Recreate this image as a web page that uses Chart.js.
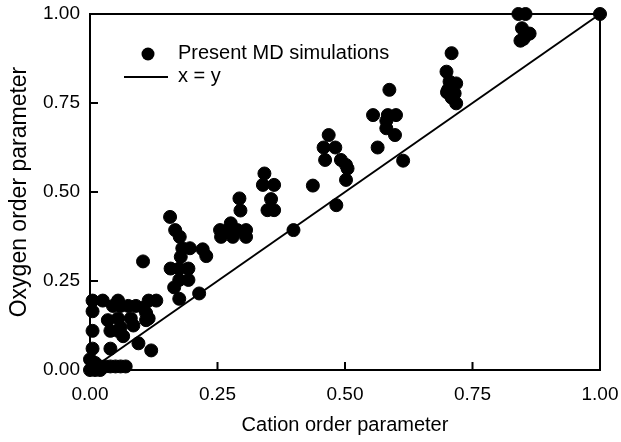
<!DOCTYPE html>
<html>
<head>
<meta charset="utf-8">
<script src="https://cdn.jsdelivr.net/npm/chart.js@4"></script>
<style>
  body { margin: 0; background: #fff; }
  #wrap { width: 621px; height: 442px; }
</style>
</head>
<body>
<div id="wrap"><canvas id="orderChart"></canvas></div>
<script>
// cation vs oxygen order parameter, MD runs

const cationOrder = [
  0.00, 0.005, 0.01, 0.02, 0.03, 0.04, 0.05, 0.06, 0.07, 0.00, 0.01, 0.02,
  0.005, 0.04, 0.12, 0.095,
  0.005, 0.04, 0.055, 0.065, 0.06,
  0.005, 0.035, 0.055, 0.08, 0.085, 0.11, 0.11, 0.115,
  0.005, 0.025, 0.055, 0.06, 0.075, 0.09, 0.045, 0.115, 0.13, 0.105,
  0.104,
  0.175, 0.165, 0.175, 0.193, 0.158, 0.175, 0.193, 0.214,
  0.178, 0.181, 0.196, 0.221, 0.228,
  0.157, 0.167, 0.176,
  0.255, 0.273, 0.289, 0.306, 0.257, 0.28, 0.306, 0.276, 0.295, 0.293,
  0.342, 0.339, 0.361, 0.355, 0.348, 0.361,
  0.399, 0.437, 0.483,
  0.468, 0.458, 0.481, 0.461, 0.492, 0.502, 0.505, 0.502,
  0.564, 0.614,
  0.587, 0.555, 0.584, 0.600, 0.581, 0.598, 0.581,
  0.699, 0.705, 0.718, 0.702, 0.715, 0.709, 0.718, 0.709, 0.70,
  0.84, 0.854, 0.847, 0.855, 0.862, 0.844, 0.85,
  1.00
];
const oxygenOrder = [
  0.00, 0.01, 0.02, 0.01, 0.01, 0.01, 0.01, 0.01, 0.01, 0.03, 0.00, 0.00,
  0.06, 0.06, 0.055, 0.075,
  0.11, 0.11, 0.11, 0.095, 0.12,
  0.165, 0.14, 0.145, 0.145, 0.125, 0.16, 0.14, 0.145,
  0.195, 0.195, 0.195, 0.18, 0.18, 0.18, 0.18, 0.195, 0.195, 0.175,
  0.305,
  0.20, 0.232, 0.253, 0.253, 0.285, 0.285, 0.285, 0.215,
  0.318, 0.342, 0.342, 0.339, 0.32,
  0.43, 0.393, 0.374,
  0.393, 0.393, 0.393, 0.393, 0.374, 0.374, 0.374, 0.412, 0.448, 0.482,
  0.552, 0.52, 0.52, 0.48, 0.449, 0.449,
  0.393, 0.518, 0.463,
  0.66, 0.625, 0.625, 0.59, 0.59, 0.576, 0.566, 0.534,
  0.625, 0.588,
  0.787, 0.716, 0.716, 0.716, 0.679, 0.66, 0.70,
  0.838, 0.81, 0.805, 0.787, 0.777, 0.765, 0.749, 0.89, 0.78,
  1.00, 1.00, 0.96, 0.94, 0.945, 0.925, 0.93,
  1.00
];
const identityLine = [0, 1];
const tickValues = [0, 0.25, 0.5, 0.75, 1];

const mdPoints = cationOrder.map((x, i) => ({ x: x, y: oxygenOrder[i] }));
const linePoints = identityLine.map(v => ({ x: v, y: v }));

const FONT = 'Liberation Sans, Arial, sans-serif';

// frame, inward ticks and the legend inside the plot
const framePlugin = {
  id: 'frame',
  afterDraw(chart) {
    const ctx = chart.ctx;
    const a = chart.chartArea;
    const xs = chart.scales.x, ys = chart.scales.y;
    ctx.save();
    ctx.strokeStyle = '#000';
    ctx.lineWidth = 2;
    ctx.strokeRect(a.left, a.top, a.right - a.left, a.bottom - a.top);
    ctx.beginPath();
    tickValues.forEach(v => {
      const px = xs.getPixelForValue(v);
      ctx.moveTo(px, a.bottom);
      ctx.lineTo(px, a.bottom - 8);
      const py = ys.getPixelForValue(v);
      ctx.moveTo(a.left, py);
      ctx.lineTo(a.left + 8, py);
    });
    ctx.stroke();

    // legend
    ctx.fillStyle = '#000';
    ctx.beginPath();
    ctx.arc(148, 54, 6.5, 0, Math.PI * 2);
    ctx.fill();
    ctx.beginPath();
    ctx.moveTo(124, 77);
    ctx.lineTo(168, 77);
    ctx.stroke();
    ctx.font = '20px ' + FONT;
    ctx.textBaseline = 'middle';
    ctx.fillText(chart.data.datasets[0].label, 178, 53);
    ctx.fillText(chart.data.datasets[1].label, 178, 76);
    ctx.restore();
  }
};

const ctx = document.getElementById('orderChart').getContext('2d');
const orderChart = new Chart(ctx, {
  type: 'scatter',
  data: {
    datasets: [{
      label: 'Present MD simulations',
      data: mdPoints,
      backgroundColor: '#000',
      borderColor: '#000',
      pointRadius: 6.5,
      pointHoverRadius: 6.5,
      order: 1
    }, {
      type: 'line',
      label: 'x = y',
      data: linePoints,
      borderColor: '#000',
      borderWidth: 2,
      pointRadius: 0,
      fill: false,
      order: 2
    }]
  },
  options: {
    responsive: true,
    maintainAspectRatio: false,
    animation: false,
    clip: false,
    layout: { padding: { top: 14, right: 21, left: 0, bottom: 0 } },
    plugins: {
      legend: { display: false },
      tooltip: { enabled: false }
    },
    scales: {
      x: {
        type: 'linear',
        min: 0, max: 1,
        afterFit(scale) {
          scale.height = 72;
          scale.paddingLeft = 0;
          scale.paddingRight = 0;
        },
        afterBuildTicks(scale) { scale.ticks = tickValues.map(v => ({ value: v })); },
        grid: { display: true, drawOnChartArea: false, drawTicks: false },
        border: { display: true, color: '#000', width: 2 },
        ticks: {
          color: '#000',
          padding: 13,
          font: { family: FONT, size: 19 },
          callback: v => v.toFixed(2)
        },
        title: {
          display: true,
          text: 'Cation order parameter',
          color: '#000',
          font: { family: FONT, size: 20 },
          padding: { top: 4, bottom: 5 }
        }
      },
      y: {
        type: 'linear',
        min: 0, max: 1,
        afterFit(scale) {
          scale.width = 90;
          scale.paddingTop = 0;
          scale.paddingBottom = 0;
        },
        afterBuildTicks(scale) { scale.ticks = tickValues.map(v => ({ value: v })); },
        grid: { display: true, drawOnChartArea: false, drawTicks: false },
        border: { display: true, color: '#000', width: 2 },
        ticks: {
          color: '#000',
          padding: 10,
          font: { family: FONT, size: 19 },
          callback: v => v.toFixed(2)
        },
        title: {
          display: true,
          text: 'Oxygen order parameter',
          color: '#000',
          font: { family: FONT, size: 23 },
          padding: { top: 6, bottom: 4 }
        }
      }
    }
  },
  plugins: [framePlugin]
});
</script>
</body>
</html>
